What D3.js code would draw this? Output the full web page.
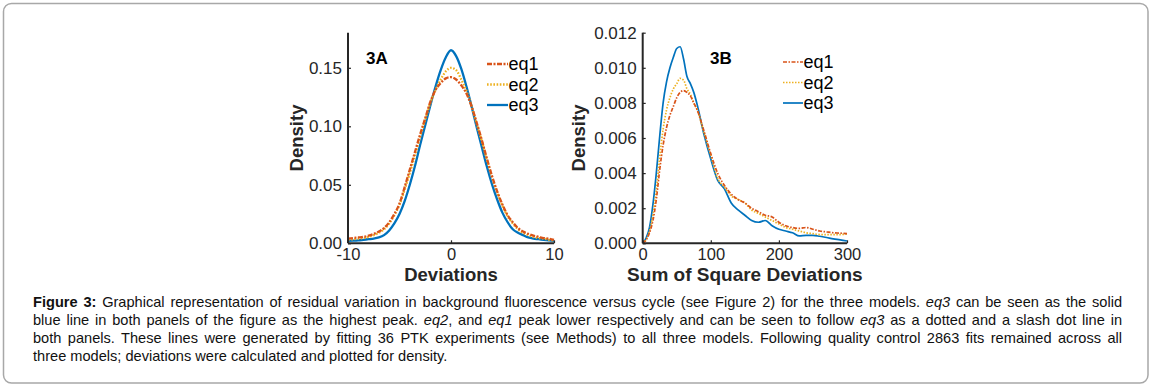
<!DOCTYPE html>
<html><head><meta charset="utf-8">
<script src="https://cdn.jsdelivr.net/npm/d3@7/dist/d3.min.js"></script>
<style>
body{margin:0;background:#fff;}
svg{display:block;}
</style></head>
<body><svg id="chart" width="1152" height="387"></svg>
<script>
// Panel A data
const devX = [-10,-9.5,-9,-8.5,-8,-7.5,-7,-6.5,-6,-5.5,-5,-4.5,-4,-3.5,-3,-2.5,-2,-1.5,-1,-0.5,0,0.5,1,1.5,2,2.5,3,3.5,4,4.5,5,5.5,6,6.5,7,7.5,8,8.5,9,9.5,10];
const devEq1 = [0.004,0.0045,0.005,0.0055,0.0065,0.008,0.010,0.013,0.018,0.025,0.034,0.048,0.063,0.078,0.093,0.107,0.121,0.131,0.137,0.141,0.142,0.140,0.135,0.128,0.117,0.103,0.088,0.072,0.057,0.044,0.033,0.024,0.018,0.013,0.010,0.008,0.0065,0.0055,0.0045,0.004,0.003];
const devEq2 = [0.003,0.0035,0.004,0.0045,0.0055,0.007,0.009,0.012,0.017,0.024,0.033,0.046,0.060,0.075,0.091,0.106,0.120,0.131,0.140,0.147,0.150,0.148,0.140,0.130,0.117,0.102,0.087,0.071,0.056,0.043,0.032,0.023,0.017,0.012,0.009,0.007,0.0055,0.0045,0.004,0.003,0.0025];
const devEq3 = [0.002,0.0022,0.0025,0.003,0.0035,0.004,0.005,0.007,0.011,0.017,0.025,0.036,0.050,0.066,0.084,0.101,0.118,0.134,0.148,0.159,0.165,0.160,0.149,0.134,0.117,0.099,0.082,0.065,0.050,0.037,0.026,0.018,0.012,0.009,0.007,0.005,0.004,0.0035,0.003,0.0025,0.002];
const devXTicks = [-10,0,10];
const devYTicks = [0,0.05,0.10,0.15];

// Panel B data
const ssdX = [0,5,10,15,20,25,30,35,40,45,50,55,60,65,70,75,80,90,100,110,120,130,140,150,160,170,180,190,200,210,220,230,240,250,260,270,280,290,300];
const ssdEq1 = [0,0.0002,0.0006,0.0013,0.0025,0.0042,0.0056,0.0066,0.0073,0.0078,0.0083,0.0086,0.0087,0.0086,0.0084,0.0080,0.0076,0.0064,0.0051,0.0040,0.0033,0.0028,0.0025,0.0023,0.0020,0.0018,0.0016,0.0015,0.0012,0.0010,0.0009,0.00085,0.0009,0.0008,0.0007,0.00065,0.0006,0.00058,0.00055];
const ssdEq2 = [0,0.0002,0.0007,0.0016,0.0030,0.0049,0.0065,0.0076,0.0083,0.0088,0.0091,0.0094,0.0093,0.0088,0.0085,0.0080,0.0076,0.0063,0.0050,0.0037,0.0032,0.0027,0.0025,0.0023,0.0019,0.0017,0.0015,0.0013,0.0011,0.0009,0.0008,0.0007,0.0006,0.00055,0.0005,0.0005,0.0005,0.0005,0.00053];
const ssdEq3 = [0,0.0003,0.0009,0.0022,0.0040,0.0061,0.0080,0.0092,0.0100,0.0106,0.0111,0.0112,0.0105,0.0095,0.0091,0.0086,0.0079,0.0062,0.0048,0.0036,0.0031,0.0023,0.0019,0.0016,0.0013,0.0012,0.0013,0.0010,0.0008,0.0007,0.0006,0.00042,0.00045,0.00045,0.0004,0.00033,0.00025,0.0002,0.00013];
const ssdXTicks = [0,100,200,300];
const ssdYTicks = [0,0.002,0.004,0.006,0.008,0.010,0.012];

const seriesNames = ["eq1","eq2","eq3"];
const colors = ["#D95319","#EDB120","#0072BD"];

// Caption lines: [text, style] segments; b = bold, i = italic
const captionLines = [
  [["Figure 3:","b"],[" Graphical representation of residual variation in background fluorescence versus cycle (see Figure 2) for the three models. ",""],["eq3","i"],[" can be seen as the solid",""]],
  [["blue line in both panels of the figure as the highest peak. ",""],["eq2","i"],[", and ",""],["eq1","i"],[" peak lower respectively and can be seen to follow ",""],["eq3","i"],[" as a dotted and a slash dot line in",""]],
  [["both panels. These lines were generated by fitting 36 PTK experiments (see Methods) to all three models. Following quality control 2863 fits remained across all",""]],
  [["three models; deviations were calculated and plotted for density.",""]]
];

const svg = d3.select("#chart");
const FONT = "'Liberation Sans', Arial, Helvetica, sans-serif";
const AX = "#262626";

// border
svg.append("rect").attr("x",3.5).attr("y",3.5).attr("width",1144.5).attr("height",379.5)
  .attr("rx",8).attr("fill","none").attr("stroke","#a8a8a8").attr("stroke-width",1.5);

function panel(cfg){
  const x = d3.scaleLinear().domain(cfg.xDom).range([cfg.x0,cfg.x1]);
  const y = d3.scaleLinear().domain(cfg.yDom).range([cfg.y0,cfg.y1]);
  const g = svg.append("g");
  const line = d3.line().x((d,i)=>x(cfg.xs[i])).y(d=>y(d)).curve(d3.curveMonotoneX);
  const dashes = [cfg.dashDot, cfg.dot, null];
  [2,1,0].forEach(k=>{
    g.append("path").datum(cfg.ys[k]).attr("d",line).attr("fill","none")
      .attr("stroke",colors[k]).attr("stroke-width",cfg.lw)
      .attr("stroke-dasharray",dashes[k]);
  });
  const yAxis = d3.axisLeft(y).tickValues(cfg.yTicks).tickFormat(cfg.yFmt).tickSizeInner(-3).tickSizeOuter(0).tickPadding(6);
  const xAxis = d3.axisBottom(x).tickValues(cfg.xTicks).tickFormat(d=>d<0?"-"+Math.abs(d):d).tickSizeInner(-3).tickSizeOuter(0).tickPadding(6);
  const ya = g.append("g").attr("transform",`translate(${cfg.x0},0)`).call(yAxis);
  const xa = g.append("g").attr("transform",`translate(0,${cfg.y0})`).call(xAxis);
  [ya,xa].forEach(a=>{
    a.select(".domain").attr("stroke",AX).attr("stroke-width",2);
    a.selectAll(".tick line").attr("stroke",AX).attr("stroke-width",1.2);
    a.selectAll(".tick text").attr("fill",AX).style("font-family",FONT).style("font-size","17px");
  });
  ya.select(".domain").attr("d",`M0,${cfg.y1}V${cfg.y0}`);
  xa.select(".domain").attr("d",`M${cfg.x0},0H${cfg.x1}`);
  xa.selectAll(".tick text").style("font-size","16.5px").attr("dy",null).attr("y",17.2);
  g.append("text").attr("transform",`translate(${cfg.ylx},${(cfg.y0+cfg.y1)/2}) rotate(-90)`)
    .attr("text-anchor","middle").attr("dy","0.35em").style("font-family",FONT).style("font-weight","bold")
    .style("font-size","18.5px").attr("fill",AX).text("Density");
  g.append("text").attr("x",(cfg.x0+cfg.x1)/2).attr("y",281).attr("text-anchor","middle")
    .style("font-family",FONT).style("font-weight","bold").style("font-size",cfg.xlSize).attr("fill",AX).text(cfg.xLabel);
  g.append("text").attr("x",cfg.tagX).attr("y",64).style("font-family",FONT).style("font-weight","bold")
    .style("font-size","17px").attr("fill","#000").text(cfg.tag);
  seriesNames.forEach((n,k)=>{
    const ly = cfg.legY + k*20.5;
    g.append("line").attr("x1",cfg.legX).attr("x2",cfg.legX+cfg.legW).attr("y1",ly).attr("y2",ly)
      .attr("stroke",colors[k]).attr("stroke-width",cfg.lw).attr("stroke-dasharray",dashes[k]);
    g.append("text").attr("x",cfg.legX+cfg.legW+0.5).attr("y",ly).attr("dy","0.36em")
      .style("font-family",FONT).style("font-size","18px").attr("fill","#000").text(n);
  });
}

panel({xs:devX, ys:[devEq1,devEq2,devEq3], xDom:[-10,10], yDom:[0,0.18], x0:348, x1:554, y0:243.3, y1:32.7,
  xTicks:devXTicks, yTicks:devYTicks, yFmt:d3.format(".2f"), xLabel:"Deviations", xlSize:"18.5px", ylx:297, tag:"3A", tagX:366,
  legX:487, legW:21, legY:64, lw:2.3, dashDot:"5,1.5,2,1.5", dot:"1.6,1.6"});
panel({xs:ssdX, ys:[ssdEq1,ssdEq2,ssdEq3], xDom:[0,300], yDom:[0,0.012], x0:642.7, x1:847, y0:243.3, y1:32.7,
  xTicks:ssdXTicks, yTicks:ssdYTicks, yFmt:d3.format(".3f"), xLabel:"Sum of Square Deviations", xlSize:"19px", ylx:579, tag:"3B", tagX:710,
  legX:783, legW:20, legY:62, lw:1.7, dashDot:"4,1.5,1.5,1.5", dot:"1.5,1.5"});

// caption, justified line by line
const capX = 33, capW = 1089, capY0 = 306.5, capLH = 18.3;
captionLines.forEach((segs,li)=>{
  const t = svg.append("text").attr("x",capX).attr("y",capY0+li*capLH)
    .style("font-family",FONT).style("font-size","14.6px").attr("fill","#111");
  segs.forEach(([s,st])=>{
    t.append("tspan").text(s).style("font-weight",st==="b"?"bold":"normal").style("font-style",st==="i"?"italic":"normal");
  });
  if(li < captionLines.length-1){
    const w = t.node().getComputedTextLength();
    const spaces = segs.map(d=>d[0]).join("").split(" ").length-1;
    if(spaces>0) t.style("word-spacing",((capW-w)/spaces)+"px");
  }
});
</script></body></html>
